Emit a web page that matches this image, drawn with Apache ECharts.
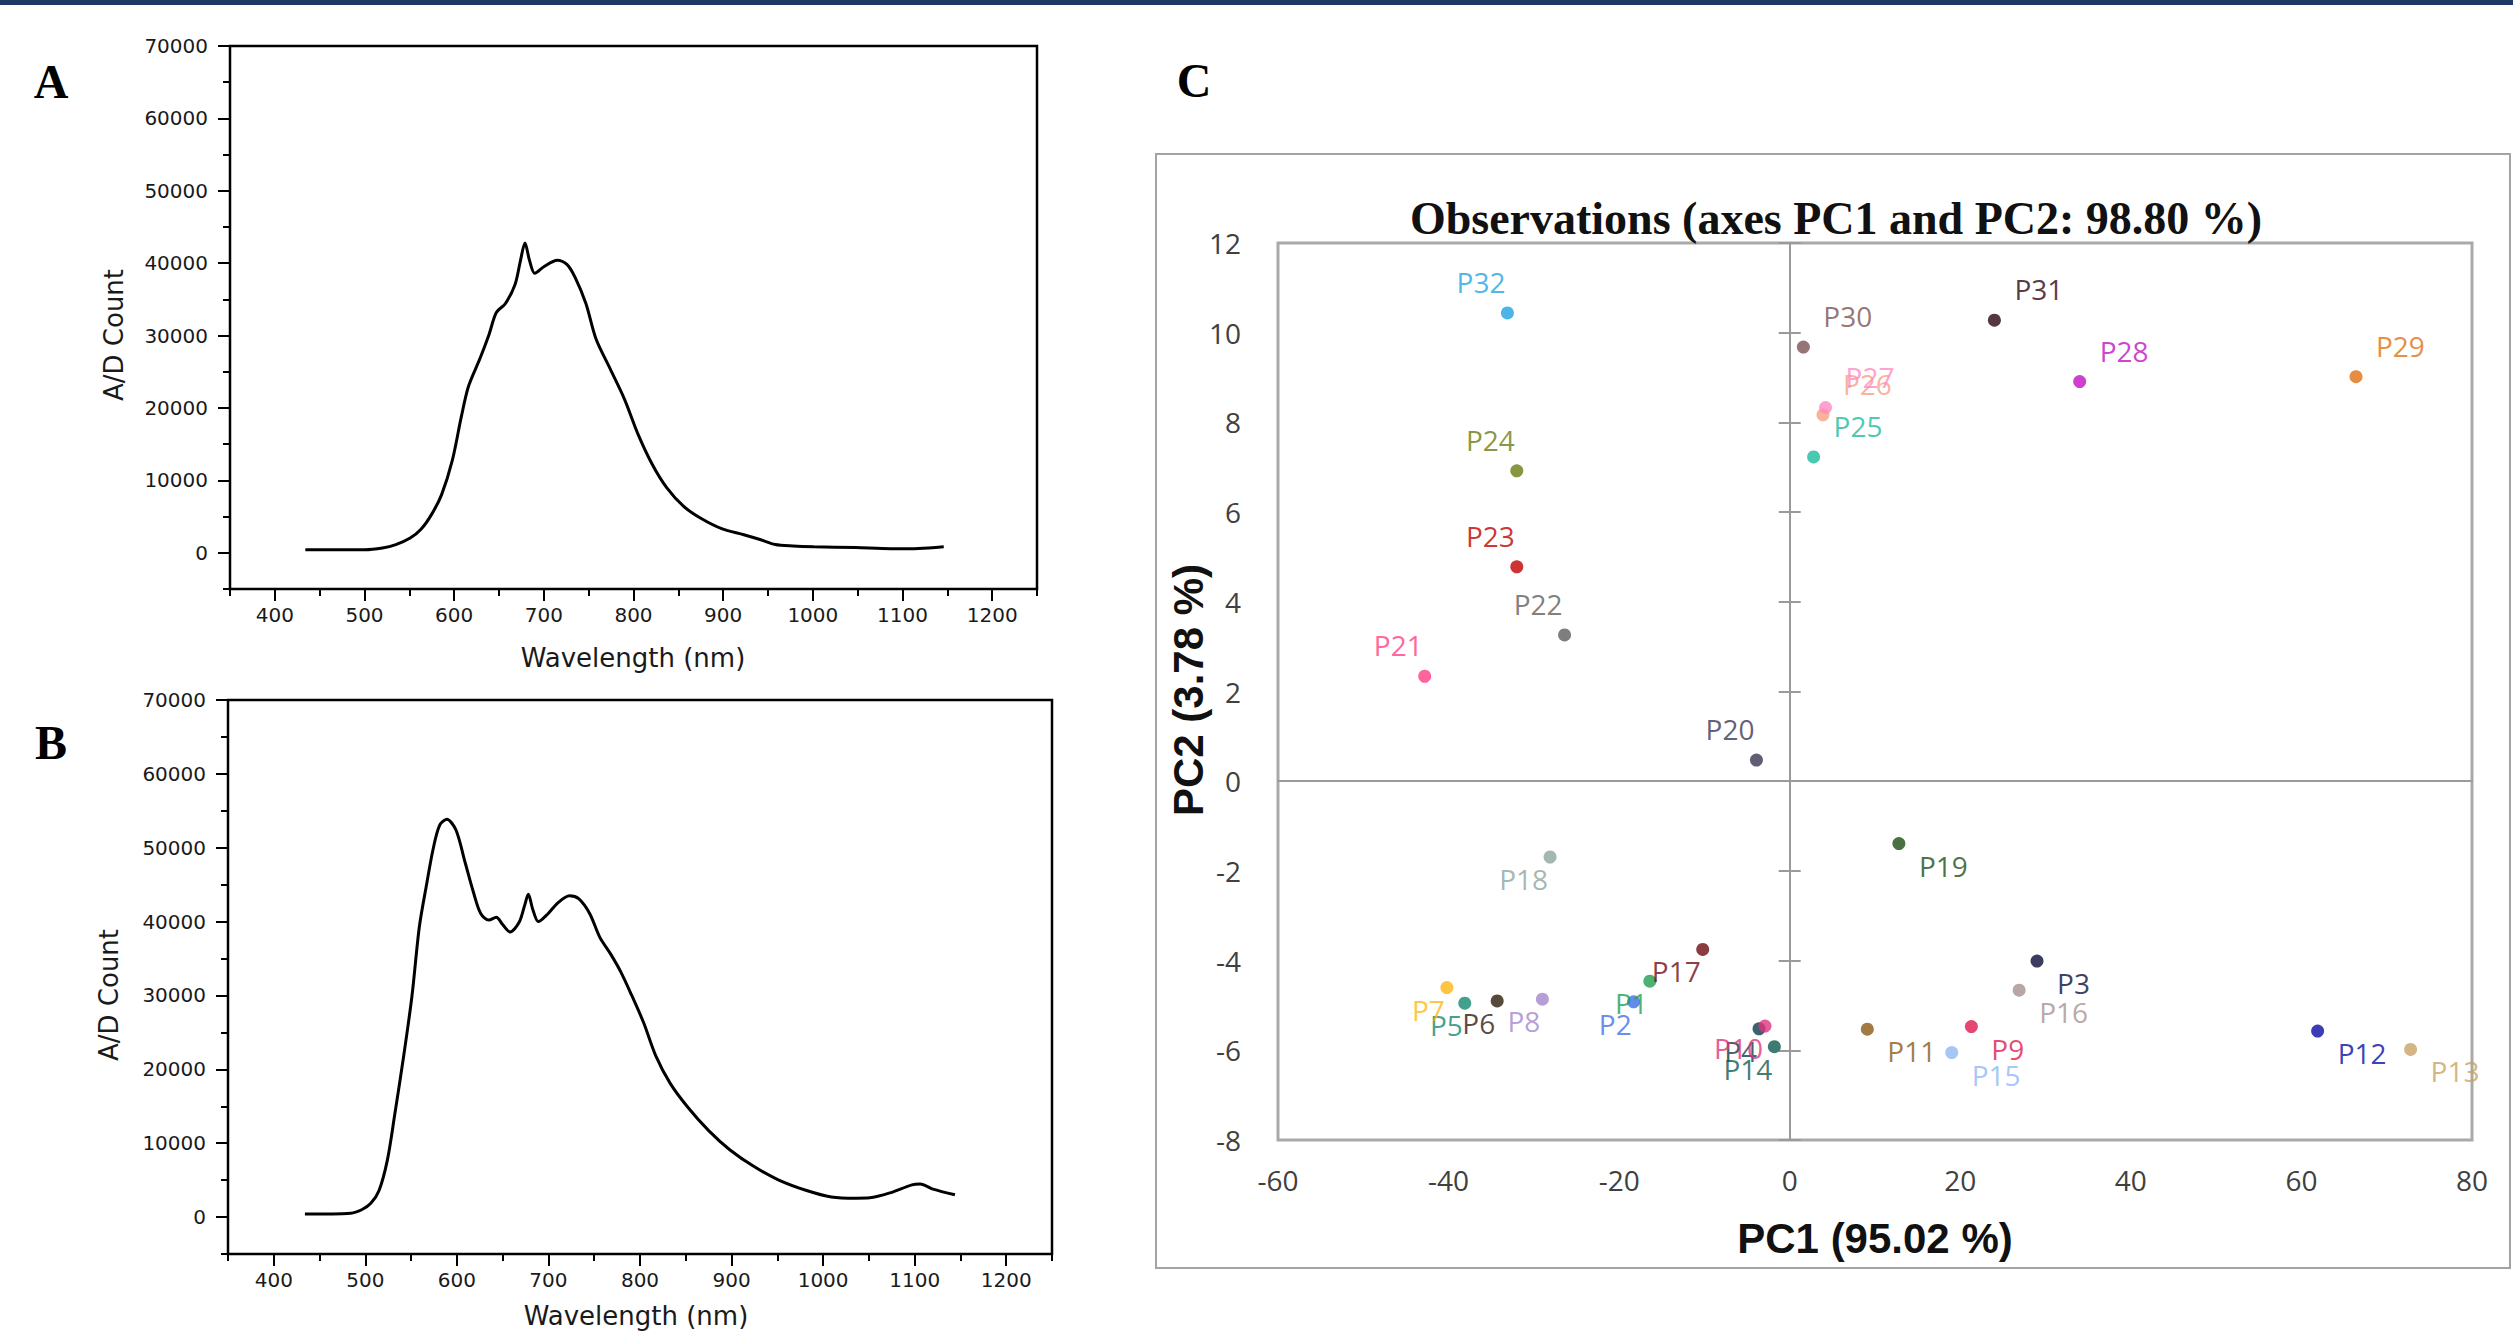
<!DOCTYPE html>
<html><head><meta charset="utf-8">
<script src="https://cdn.jsdelivr.net/npm/echarts@6/dist/echarts.min.js"></script>
<style>html,body{margin:0;padding:0;background:#fff}#c{width:2513px;height:1333px}</style>
</head><body><div id="c"></div>
<script>
// ---------- Panel A spectrum ----------
const specA_nm    = [434, 500, 520, 535, 551, 563, 575, 586, 598, 608, 616, 629, 639, 647, 657, 668, 674, 679, 684, 690, 700, 715, 726, 735, 747, 758, 774, 790, 805, 821, 837, 856, 876, 899, 923, 942, 958, 978, 1001, 1048, 1087, 1118, 1146];
const specA_count = [420, 420, 660, 1140, 2040, 3240, 5340, 8040, 12800, 18800, 23000, 26900, 30200, 33200, 34400, 37100, 40400, 42800, 40400, 38600, 39500, 40400, 39800, 38000, 34400, 29600, 25400, 21200, 16400, 12200, 9000, 6400, 4700, 3300, 2500, 1800, 1150, 950, 840, 720, 560, 600, 840];
// ---------- Panel B spectrum ----------
const specB_nm    = [434, 484, 496, 506, 515, 524, 532, 542, 551, 559, 567, 574, 581, 589, 599, 609, 618, 626, 635, 643, 650, 658, 668, 674, 678, 683, 689, 699, 710, 723, 733, 745, 756, 768, 779, 791, 804, 817, 833, 852, 875, 898, 925, 951, 982, 1009, 1036, 1051, 1074, 1097, 1106, 1120, 1144];
const specB_count = [400, 520, 990, 1860, 3600, 7670, 13770, 21900, 30000, 39300, 45100, 49800, 53000, 53850, 52400, 48000, 44000, 41100, 40200, 40600, 39600, 38600, 39900, 42200, 43700, 41600, 40000, 41000, 42500, 43500, 43100, 41100, 37900, 35600, 33200, 30000, 26300, 21900, 18100, 14900, 11700, 9120, 6800, 5050, 3600, 2730, 2560, 2610, 3310, 4360, 4470, 3780, 3020];
// ---------- spectrum axis ticks ----------
const wlMajor    = [400, 500, 600, 700, 800, 900, 1000, 1100, 1200];
const wlMinor    = [350, 450, 550, 650, 750, 850, 950, 1050, 1150, 1250];
const countMajor = [0, 10000, 20000, 30000, 40000, 50000, 60000, 70000];
const countMinor = [-5000, 5000, 15000, 25000, 35000, 45000, 55000, 65000];
// ---------- Panel C PCA observations ----------
const sampleNames = ['P1','P2','P3','P4','P5','P6','P7','P8','P9','P10','P11','P12','P13','P14','P15','P16','P17','P18','P19','P20','P21','P22','P23','P24','P25','P26','P27','P28','P29','P30','P31','P32'];
const pc1 = [-16.4, -18.3, 29.0, -3.6, -38.1, -34.3, -40.2, -29.0, 21.3, -2.9, 9.1, 61.9, 72.8, -1.8, 19.0, 26.9, -10.2, -28.1, 12.8, -3.9, -42.8, -26.4, -32.0, -32.0, 2.8, 3.9, 4.2, 34.0, 66.4, 1.6, 24.0, -33.1];
const pc2 = [-4.46, -4.92, -4.01, -5.52, -4.95, -4.90, -4.60, -4.86, -5.47, -5.46, -5.53, -5.57, -5.98, -5.92, -6.05, -4.66, -3.75, -1.69, -1.39, 0.47, 2.34, 3.26, 4.78, 6.92, 7.23, 8.17, 8.33, 8.91, 9.02, 9.68, 10.28, 10.44];
const sampleColors = ['#1f9e50','#3f6fe8','#0b0b3b','#0e3a4c','#12896f','#2d1b0b','#ffb612','#a487cc','#e0194c','#e0337e','#8a5a14','#0b0ba5','#c9a264','#0d5a50','#90b8f4','#a89090','#6e0b10','#8da59c','#1d4d12','#3b3552','#ff3d83','#5e5e5e','#c00000','#6b7b12','#1bbc9b','#f7a082','#ff8ac2','#c012c0','#e07012','#7a5252','#2a0515','#1fa3e0'];
const pcTitle = 'Observations (axes PC1 and PC2: 98.80 %)';
const pc1Name = 'PC1 (95.02 %)';
const pc2Name = 'PC2 (3.78 %)';

const chart = echarts.init(document.getElementById('c'), null, {renderer: 'svg', width: 2513, height: 1333});

const specFont = {fontFamily: 'DejaVu Sans', fontSize: 20, color: '#1a1a1a', formatter: v => String(v)};
function specX(grid, major) {
  return {
    type: 'value', gridIndex: grid, min: 350, max: 1250, position: 'bottom',
    axisLine: {show: false, onZero: false}, splitLine: {show: false},
    axisTick: {show: true, customValues: major ? wlMajor : wlMinor, length: major ? 12 : 7, lineStyle: {color: '#000', width: 2}},
    axisLabel: major ? Object.assign({show: true, customValues: wlMajor, margin: 16}, specFont) : {show: false}
  };
}
function specY(grid, major) {
  return {
    type: 'value', gridIndex: grid, min: -5000, max: 70000, position: 'left',
    axisLine: {show: false, onZero: false}, splitLine: {show: false},
    axisTick: {show: true, customValues: major ? countMajor : countMinor, length: major ? 12 : 7, lineStyle: {color: '#000', width: 2}},
    axisLabel: major ? Object.assign({show: true, customValues: countMajor, margin: 22}, specFont) : {show: false}
  };
}
const pcFont = {fontFamily: 'Open Sans', fontSize: 28, color: '#404040'};

const scatterData = sampleNames.map((n, i) => ({
  name: n,
  value: [pc1[i], pc2[i]],
  itemStyle: {color: sampleColors[i]},
  label: {
    color: sampleColors[i],
    align: pc1[i] < 0 ? 'right' : 'left',
    offset: [pc1[i] < 0 ? -2 : 20, pc2[i] > 0 ? -31 : 22]
  }
}));

const option = {
  animation: false,
  backgroundColor: '#ffffff',
  grid: [
    {left: 230, top: 46, width: 807, height: 543, show: true, borderColor: '#000', borderWidth: 2.5, backgroundColor: 'transparent'},
    {left: 228, top: 700, width: 824, height: 554, show: true, borderColor: '#000', borderWidth: 2.5, backgroundColor: 'transparent'},
    {left: 1278, top: 243, width: 1194, height: 897, show: true, borderColor: '#a9a9a9', borderWidth: 3, backgroundColor: 'transparent'}
  ],
  xAxis: [
    specX(0, true), specX(0, false), specX(1, true), specX(1, false),
    {type: 'value', gridIndex: 2, min: -60, max: 80, interval: 20, position: 'bottom',
     axisLine: {show: false, onZero: false}, axisTick: {show: false}, splitLine: {show: false},
     axisLabel: Object.assign({margin: 26}, pcFont)},
    {type: 'value', gridIndex: 2, min: -60, max: 80, interval: 20,
     axisLine: {show: true, onZero: true, onZeroAxisIndex: 4, lineStyle: {color: '#9a9a9a', width: 2}},
     axisTick: {show: false}, axisLabel: {show: false}, splitLine: {show: false}}
  ],
  yAxis: [
    specY(0, true), specY(0, false), specY(1, true), specY(1, false),
    {type: 'value', gridIndex: 2, min: -8, max: 12, interval: 2, position: 'left',
     axisLine: {show: false, onZero: false}, axisTick: {show: false}, splitLine: {show: false},
     axisLabel: Object.assign({margin: 37}, pcFont)},
    {type: 'value', gridIndex: 2, min: -8, max: 12, interval: 2, position: 'left',
     axisLine: {show: true, onZero: true, onZeroAxisIndex: 4, lineStyle: {color: '#9a9a9a', width: 2}},
     axisTick: {show: true, length: 11, lineStyle: {color: '#9a9a9a', width: 2}},
     axisLabel: {show: false}, splitLine: {show: false}},
    {type: 'value', gridIndex: 2, min: -8, max: 12, interval: 2, position: 'left',
     axisLine: {show: false, onZero: true, onZeroAxisIndex: 4},
     axisTick: {show: true, inside: true, length: 11, lineStyle: {color: '#9a9a9a', width: 2}},
     axisLabel: {show: false}, splitLine: {show: false}}
  ],
  series: [
    {type: 'line', xAxisIndex: 0, yAxisIndex: 0, smooth: 0.3, showSymbol: false,
     lineStyle: {color: '#000', width: 3}, data: specA_nm.map((x, i) => [x, specA_count[i]])},
    {type: 'line', xAxisIndex: 2, yAxisIndex: 2, smooth: 0.3, showSymbol: false,
     lineStyle: {color: '#000', width: 3}, data: specB_nm.map((x, i) => [x, specB_count[i]])},
    {type: 'scatter', xAxisIndex: 4, yAxisIndex: 4, symbolSize: 13,
     label: {show: true, position: 'inside', formatter: '{b}', fontFamily: 'Open Sans', fontSize: 28, verticalAlign: 'middle'},
     data: scatterData}
  ],
  graphic: [
    {type: 'rect', shape: {x: 0, y: 0, width: 2513, height: 5}, style: {fill: '#1f3864'}},
    {type: 'rect', shape: {x: 1156, y: 154, width: 1354, height: 1114}, style: {fill: 'none', stroke: '#a3a3a3', lineWidth: 2}},
    {type: 'text', x: 51, y: 81, style: {text: 'A', font: 'bold 48px "Liberation Serif"', fill: '#000', textAlign: 'center', textVerticalAlign: 'middle', align: 'center', verticalAlign: 'middle'}},
    {type: 'text', x: 51, y: 742, style: {text: 'B', font: 'bold 48px "Liberation Serif"', fill: '#000', textAlign: 'center', textVerticalAlign: 'middle', align: 'center', verticalAlign: 'middle'}},
    {type: 'text', x: 1194, y: 80, style: {text: 'C', font: 'bold 48px "Liberation Serif"', fill: '#000', textAlign: 'center', textVerticalAlign: 'middle', align: 'center', verticalAlign: 'middle'}},
    {type: 'text', x: 114, y: 335, rotation: Math.PI / 2, style: {text: 'A/D Count', font: '26px "DejaVu Sans"', fill: '#1a1a1a', textAlign: 'center', textVerticalAlign: 'middle', align: 'center', verticalAlign: 'middle'}},
    {type: 'text', x: 109, y: 995, rotation: Math.PI / 2, style: {text: 'A/D Count', font: '26px "DejaVu Sans"', fill: '#1a1a1a', textAlign: 'center', textVerticalAlign: 'middle', align: 'center', verticalAlign: 'middle'}},
    {type: 'text', x: 633, y: 658, style: {text: 'Wavelength (nm)', font: '26px "DejaVu Sans"', fill: '#1a1a1a', textAlign: 'center', textVerticalAlign: 'middle', align: 'center', verticalAlign: 'middle'}},
    {type: 'text', x: 636, y: 1316, style: {text: 'Wavelength (nm)', font: '26px "DejaVu Sans"', fill: '#1a1a1a', textAlign: 'center', textVerticalAlign: 'middle', align: 'center', verticalAlign: 'middle'}},
    {type: 'text', x: 1836, y: 218, style: {text: pcTitle, font: 'bold 46px "Liberation Serif"', fill: '#111', textAlign: 'center', textVerticalAlign: 'middle', align: 'center', verticalAlign: 'middle'}},
    {type: 'text', x: 1875, y: 1238, style: {text: pc1Name, font: 'bold 42px "Liberation Sans"', fill: '#111', textAlign: 'center', textVerticalAlign: 'middle', align: 'center', verticalAlign: 'middle'}},
    {type: 'text', x: 1188, y: 690, rotation: Math.PI / 2, style: {text: pc2Name, font: 'bold 42px "Liberation Sans"', fill: '#111', textAlign: 'center', textVerticalAlign: 'middle', align: 'center', verticalAlign: 'middle'}}
  ]
};
chart.setOption(option);
</script>
</body></html>
